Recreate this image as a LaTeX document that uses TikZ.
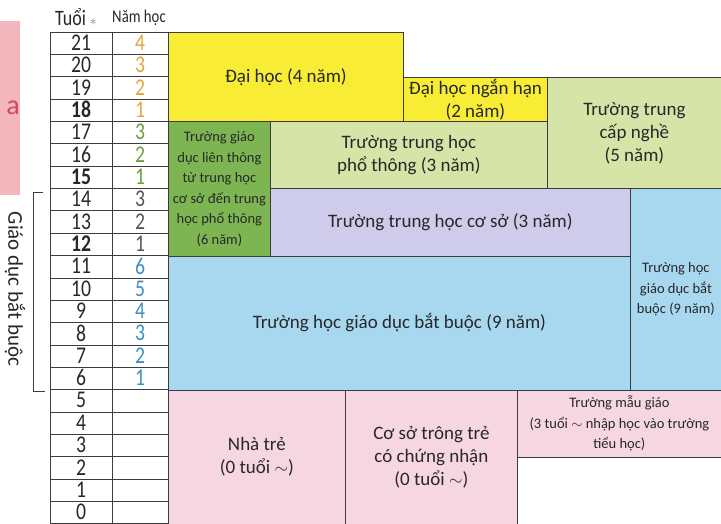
\documentclass[tikz,border=0pt]{standalone}
\usepackage{fontspec}
\setmainfont{Carlito}
\newfontfamily\condfont[FakeStretch=0.82]{Carlito}

\definecolor{uniyellow}{RGB}{248,236,52}
\definecolor{palegreen}{RGB}{215,228,168}
\definecolor{leafgreen}{RGB}{124,181,82}
\definecolor{lilac}{RGB}{207,203,234}
\definecolor{skyblue}{RGB}{168,216,240}
\definecolor{rosepink}{RGB}{246,214,225}
\definecolor{tabpink}{RGB}{242,182,188}
\definecolor{tabred}{RGB}{214,70,100}
\definecolor{linegray}{RGB}{60,60,60}
\definecolor{inkgray}{RGB}{40,40,40}
\definecolor{yrorange}{RGB}{228,164,62}
\definecolor{yrgreen}{RGB}{104,160,64}
\definecolor{yrmid}{RGB}{92,82,92}
\definecolor{yrblue}{RGB}{62,142,192}

\begin{document}
\begin{tikzpicture}[
    x=1pt, y=-1pt,
    box/.style={draw=linegray, line width=0.8pt, rectangle, anchor=north west,
      inner sep=0pt, align=center, text=inkgray, font=\fontsize{19}{23}\selectfont},
    smallbox/.style={box, font=\fontsize{14.5}{20.5}\selectfont},
    gridline/.style={draw=linegray, line width=0.7pt},
    agecell/.style={inner sep=0pt, text=inkgray, font=\condfont\fontsize{24}{24}\selectfont},
    yearcell/.style={agecell},
    headcell/.style={inner sep=0pt, text=inkgray, font=\condfont\fontsize{18}{18}\selectfont},
  ]
  \useasboundingbox (0,0) rectangle (721,523);
  \clip (0,0) rectangle (721,523);

  % side tab
  \fill[tabpink] (0,21) rectangle (20,195);
  \node[inner sep=0pt, text=tabred, font=\fontsize{28}{28}\selectfont] (tab) at (13,108) {a};

  % header
  \node[headcell, font=\condfont\fontsize{22}{22}\selectfont] (hage) at (76,17) {Tuổi\,\textcolor{gray}{\fontsize{14}{14}\selectfont$\ast$}};
  \node[headcell] (hyear) at (139,18) {Năm học};

  % table
  \foreach \k in {0,...,22}
    \draw[gridline] (50,{32+\k*22.35}) -- (168,{32+\k*22.35});
  \draw[gridline] (50,32) -- (50,524) (112,32) -- (112,524) (168,32) -- (168,524);
  \foreach \a in {0,...,11,13,14,16,17,19,20,21}
    \node[agecell] (age\a) at (81,{31.5+(21.5-\a)*22.35}) {\a};
  \foreach \a in {12,15,18}
    \node[agecell] (age\a) at (81,{31.5+(21.5-\a)*22.35}) {\bfseries\a};
  \foreach \a/\n/\c in {21/4/yrorange,20/3/yrorange,19/2/yrorange,18/1/yrorange,
      17/3/yrgreen,16/2/yrgreen,15/1/yrgreen,14/3/yrmid,13/2/yrmid,12/1/yrmid,
      11/6/yrblue,10/5/yrblue,9/4/yrblue,8/3/yrblue,7/2/yrblue,6/1/yrblue}
    \node[yearcell, text=\c] (year\a) at (140,{31.5+(21.5-\a)*22.35}) {\n};

  % compulsory bracket
  \coordinate (brtop) at (43,192);
  \coordinate (brbot) at (45,391);
  \draw[linegray, line width=0.8pt] (brtop) -| (33,391) -- (brbot);
  \node[rotate=-90, inner sep=0pt, text=inkgray, font=\fontsize{21}{21}\selectfont] (compul) at (15,289) {Giáo dục bắt buộc};

  % schools
  \node[box, fill=uniyellow, minimum width=235pt, minimum height=89.4pt] (uni) at (168,32) {Đại học (4 năm)};
  \node[box, fill=uniyellow, minimum width=144pt, minimum height=44.7pt] (junior) at (403,76.7) {Đại học ngắn hạn\\(2 năm)};
  \node[box, fill=palegreen, minimum width=174pt, minimum height=111.75pt] (voc) at (547,76.7) {Trường trung\\cấp nghề\\(5 năm)};
  \node[smallbox, fill=leafgreen, minimum width=102pt, minimum height=134.1pt] (integ) at (168,121.4)
    {Trường giáo\\dục liên thông\\từ trung học\\cơ sở đến trung\\học phổ thông\\(6 năm)};
  \node[box, fill=palegreen, minimum width=277pt, minimum height=67.05pt] (high) at (270,121.4) {Trường trung học\\phổ thông (3 năm)};
  \node[box, fill=lilac, minimum width=360pt, minimum height=67.05pt] (mid) at (270,188.45) {Trường trung học cơ sở (3 năm)};
  \node[box, fill=skyblue, minimum width=462pt, minimum height=134.1pt] (basic) at (168,255.5) {Trường học giáo dục bắt buộc (9 năm)};
  \node[smallbox, fill=skyblue, minimum width=91pt, minimum height=201.15pt] (basicright) at (630,188.45) {Trường học\\giáo dục bắt\\buộc (9 năm)};
  \node[box, fill=rosepink, minimum width=177pt, minimum height=134.1pt] (nursery) at (168,389.6) {Nhà trẻ\\(0 tuổi $\sim$)};
  \node[box, fill=rosepink, minimum width=172pt, minimum height=134.1pt] (daycare) at (345,389.6) {Cơ sở trông trẻ\\có chứng nhận\\(0 tuổi $\sim$)};
  \node[smallbox, fill=rosepink, minimum width=204pt, minimum height=67.05pt] (kinder) at (517,389.6) {Trường mẫu giáo\\(3 tuổi $\sim$ nhập học vào trường\\tiểu học)};
\end{tikzpicture}
\end{document}
